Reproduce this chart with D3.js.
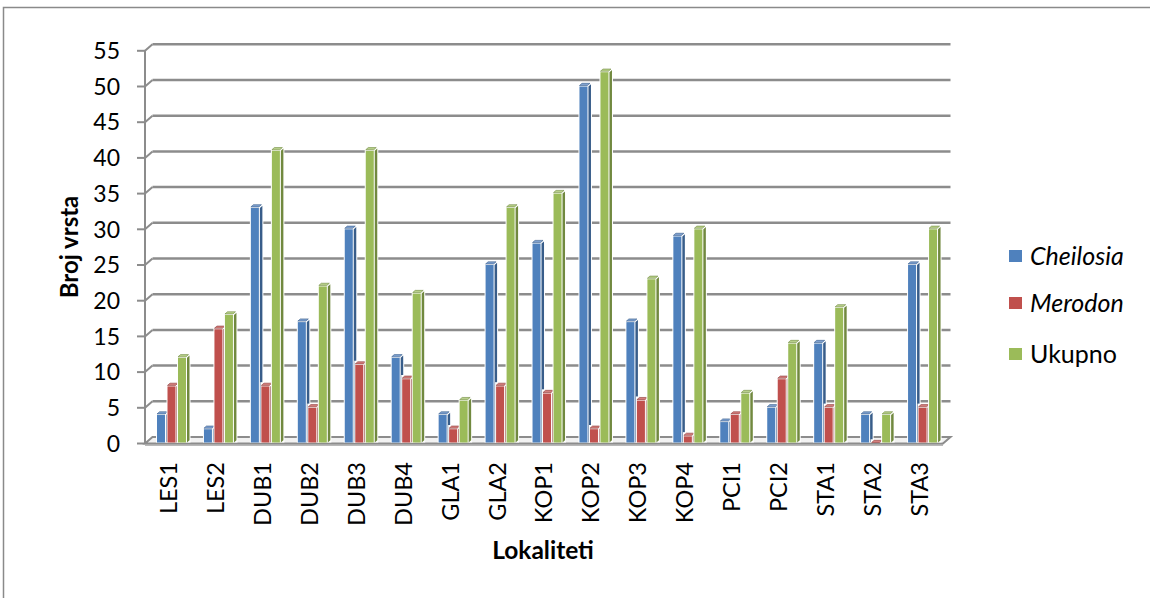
<!DOCTYPE html>
<html><head><meta charset="utf-8">
<script src="https://cdn.jsdelivr.net/npm/d3@7"></script>
<style>body{margin:0;background:#fff;}svg{display:block;font-family:Lato,'Open Sans',sans-serif;}</style>
</head><body>
<svg id="c" width="1150" height="598"></svg>
<script>
const categories = ["LES1","LES2","DUB1","DUB2","DUB3","DUB4","GLA1","GLA2","KOP1","KOP2","KOP3","KOP4","PCI1","PCI2","STA1","STA2","STA3"];
const cheilosia = [4,2,33,17,30,12,4,25,28,50,17,29,3,5,14,4,25];
const merodon   = [8,16,8,5,11,9,2,8,7,2,6,1,4,9,5,0,5];
const ukupno    = [12,18,41,22,41,21,6,33,35,52,23,30,7,14,19,4,30];
const yTicks = [0,5,10,15,20,25,30,35,40,45,50,55];
const seriesNames = ["Cheilosia","Merodon","Ukupno"];
const seriesItalic = [true,true,false];
const seriesData = [cheilosia, merodon, ukupno];
const colors = ["#4F81BD","#C0504D","#9BBB59"];
const sideColors = ["#385D8A","#8C3836","#71893F"];
const capColors = ["#7FA1D0","#D47F7D","#B8D08A"];

const svg = d3.select("#c");
const x0 = 145, x1 = 943, dx = 7.5, dy = 6.5;
const x = d3.scaleBand().domain(categories).range([x0, x1]);
const y = d3.scaleLinear().domain([0,55]).range([443.5, 50.8]);

// chart border
svg.append("rect").attr("x",3.5).attr("y",7.5).attr("width",1160).attr("height",600)
  .attr("fill","none").attr("stroke","#8a8a8a").attr("stroke-width",1.5);

const grid = svg.append("g");
const gc = "#8c8c8c";
yTicks.forEach(t => {
  const yy = y(t);
  if (t > 0) {
    grid.append("line").attr("x1",x0+dx).attr("x2",x1+dx).attr("y1",yy-dy).attr("y2",yy-dy)
      .attr("stroke",gc).attr("stroke-width",2.5);
    grid.append("line").attr("x1",x0).attr("x2",x0+dx).attr("y1",yy).attr("y2",yy-dy)
      .attr("stroke",gc).attr("stroke-width",2);
  }
  grid.append("line").attr("x1",x0-8).attr("x2",x0).attr("y1",yy).attr("y2",yy)
    .attr("stroke",gc).attr("stroke-width",2);
});
// floor
grid.append("path").attr("d",`M${x0},${y(0)} L${x0+dx},${y(0)-dy} L${x1+dx},${y(0)-dy} L${x1},${y(0)} Z`)
  .attr("fill","#f2f2f2").attr("stroke",gc).attr("stroke-width",2);
grid.append("line").attr("x1",x0).attr("x2",x1).attr("y1",y(0)+1.5).attr("y2",y(0)+1.5)
  .attr("stroke","#a0a0a0").attr("stroke-width",1.5);
// front axis
grid.append("line").attr("x1",x0).attr("x2",x0).attr("y1",y(55)).attr("y2",y(0))
  .attr("stroke",gc).attr("stroke-width",2);

// y tick labels
svg.append("g").selectAll("text").data(yTicks).join("text")
  .attr("x",120).attr("y",d=>y(d)).attr("dy","0.36em").attr("text-anchor","end")
  .attr("font-size",23).attr("fill","#000").text(d=>d);

// bars
const bw = 8, offs = [12, 22.5, 33], sd = 2.5, cd = 2.2;
const bars = svg.append("g");
categories.forEach((c, i) => {
  seriesData.forEach((arr, s) => {
    const v = arr[i];
    const bx = x(c) + offs[s];
    const top = y(v), bot = y(0) - 1;
    const h = bot - top;
    const g = bars.append("g");
    g.append("path").attr("d",`M${bx-1},${bot} L${bx-1},${top-cd-2} L${bx+bw+sd+2},${top-cd-2} L${bx+bw+sd+2},${bot} Z`)
      .attr("fill","#fff");
    if (h > 0.5) {
      g.append("rect").attr("x",bx).attr("y",top).attr("width",bw).attr("height",h).attr("fill",colors[s]);
      g.append("path").attr("d",`M${bx+bw+1},${bot} L${bx+bw+1},${top} L${bx+bw+1+sd},${top-cd} L${bx+bw+1+sd},${bot-cd} Z`)
        .attr("fill",sideColors[s]);
    }
    g.append("path").attr("d",`M${bx},${top-1} L${bx+sd},${top-1-cd} L${bx+bw+sd},${top-1-cd} L${bx+bw},${top-1} Z`)
      .attr("fill",capColors[s]).attr("stroke",sideColors[s]).attr("stroke-width",0.6);
  });
});

// x labels
svg.append("g").selectAll("text").data(categories).join("text")
  .attr("transform",d=>`translate(${x(d)+x.bandwidth()/2},462) rotate(-90)`)
  .attr("text-anchor","end").attr("dy","0.36em").attr("font-size",23.5).attr("fill","#000").text(d=>d);

// axis titles
svg.append("text").attr("transform","translate(69,247) rotate(-90)").attr("text-anchor","middle")
  .attr("dy","0.36em").attr("font-size",24).attr("font-weight","bold").text("Broj vrsta");
svg.append("text").attr("x",543).attr("y",550).attr("text-anchor","middle").attr("dy","0.36em")
  .attr("font-size",24.5).attr("font-weight","bold").text("Lokaliteti");

// legend
const legY = [256, 303, 354];
const leg = svg.append("g");
seriesNames.forEach((n, s) => {
  leg.append("rect").attr("x",1009).attr("y",legY[s]-6).attr("width",13).attr("height",12).attr("fill",colors[s]);
  leg.append("text").attr("x",1030).attr("y",legY[s]).attr("dy","0.36em").attr("font-size",25)
    .attr("font-style",seriesItalic[s]?"italic":"normal").text(n);
});
</script>
</body></html>
